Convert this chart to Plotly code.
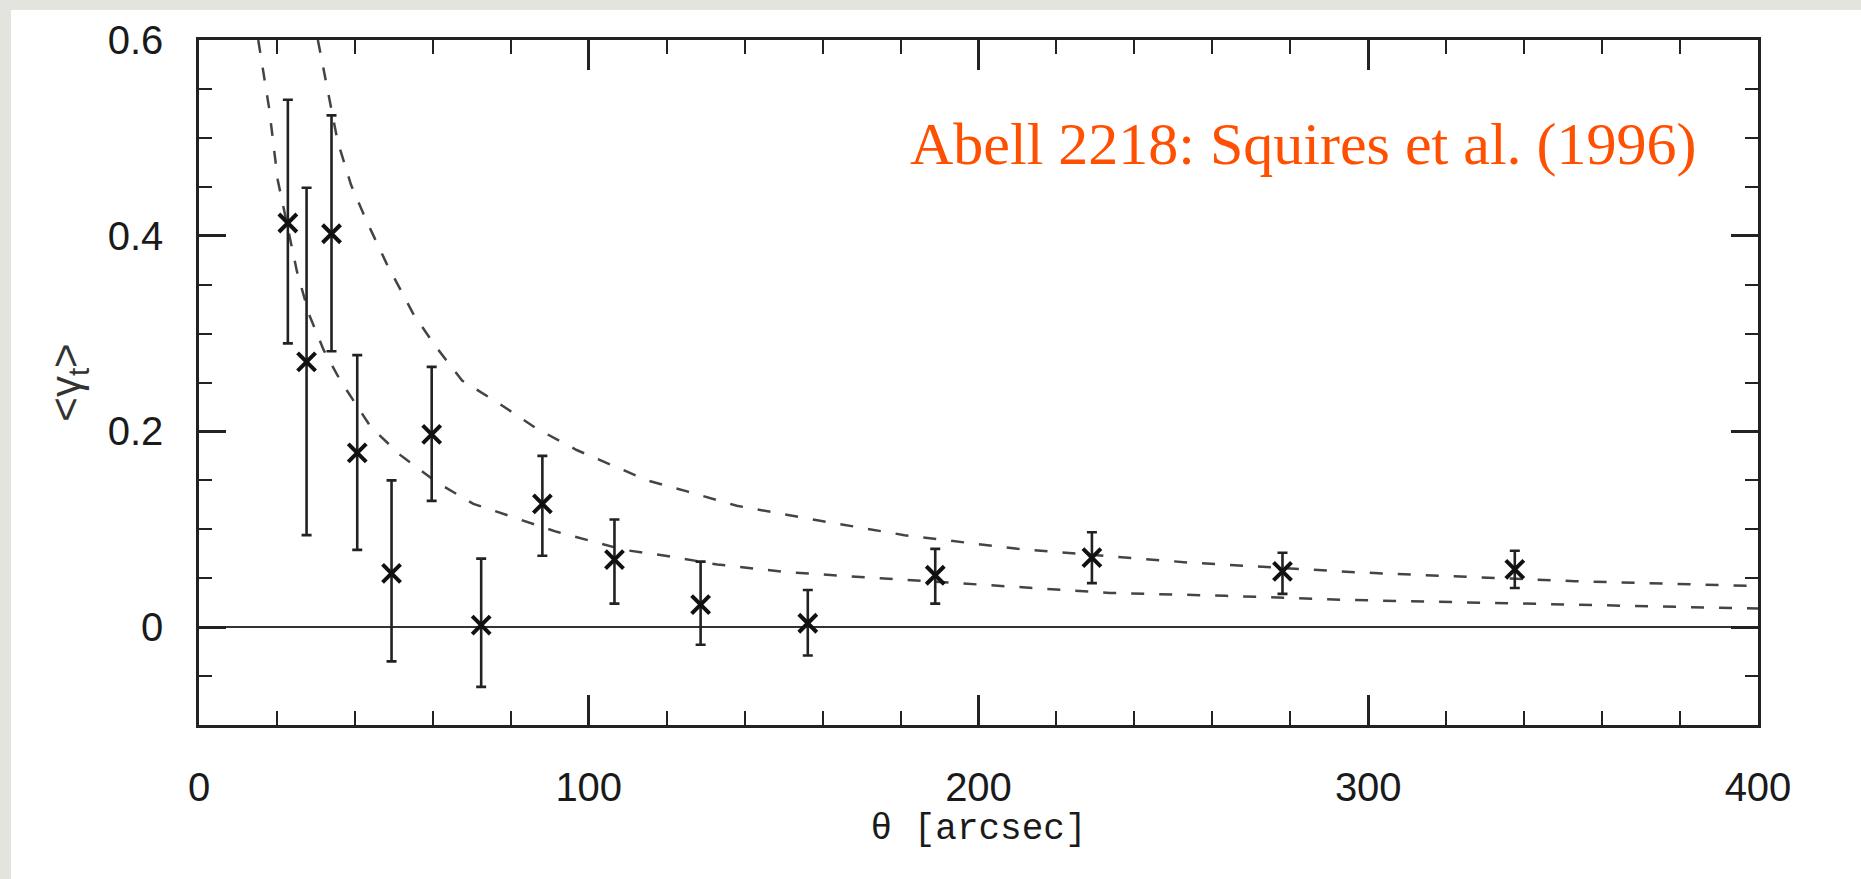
import plotly.graph_objects as go

# ---- data ----
theta = [22.8, 27.6, 34.0, 40.6, 49.4, 59.7, 72.4, 88.1, 106.6, 128.7, 156.2, 188.9, 229.1, 278.0, 337.6]
gamma_t = [0.413, 0.271, 0.402, 0.178, 0.055, 0.197, 0.002, 0.126, 0.069, 0.023, 0.004, 0.053, 0.071, 0.057, 0.059]
err_hi = [0.539, 0.449, 0.523, 0.278, 0.150, 0.266, 0.070, 0.175, 0.110, 0.067, 0.038, 0.080, 0.097, 0.076, 0.078]
err_lo = [0.290, 0.094, 0.282, 0.079, -0.035, 0.129, -0.061, 0.073, 0.024, -0.018, -0.029, 0.024, 0.045, 0.034, 0.040]

# upper dashed model curve
model1_x = [30.5, 33.4, 35.6, 39.0, 43.0, 48.2, 55.0, 60.7, 67.5, 77.2, 86.6, 96.9, 115.0, 125.0, 138.0,
            159.0, 181.0, 210.0, 254.0, 297.0, 353.0, 400.0]
model1_y = [0.600, 0.542, 0.496, 0.452, 0.415, 0.371, 0.320, 0.287, 0.252, 0.228, 0.203, 0.181, 0.150, 0.139,
            0.124, 0.109, 0.094, 0.080, 0.066, 0.056, 0.047, 0.042]

# lower dashed model curve
model2_x = [15.2, 18.0, 20.2, 25.1, 28.2, 32.0, 36.2, 44.0, 51.6, 61.0, 70.4, 80.6, 91.8, 109.0, 120.5,
            133.0, 151.5, 174.7, 206.0, 233.7, 263.4, 293.0, 352.5, 400.0]
model2_y = [0.600, 0.530, 0.457, 0.364, 0.320, 0.283, 0.2525, 0.205, 0.176, 0.148, 0.126, 0.112, 0.0974, 0.079,
            0.0725, 0.064, 0.056, 0.050, 0.042, 0.035, 0.032, 0.028, 0.023, 0.019]

x_ticks = [0, 100, 200, 300, 400]
y_ticks = [0, 0.2, 0.4, 0.6]
annotation_text = "Abell 2218: Squires et al. (1996)"

# ---- figure ----
fig = go.Figure()

dash_style = "13px,15px"
fig.add_trace(go.Scatter(x=model1_x, y=model1_y, mode="lines",
                         line=dict(color="#444444", width=2.5, dash=dash_style),
                         hoverinfo="skip", showlegend=False))
fig.add_trace(go.Scatter(x=model2_x, y=model2_y, mode="lines",
                         line=dict(color="#444444", width=2.5, dash=dash_style),
                         hoverinfo="skip", showlegend=False))

plus = [h - v for h, v in zip(err_hi, gamma_t)]
minus = [v - l for v, l in zip(gamma_t, err_lo)]
fig.add_trace(go.Scatter(
    x=theta, y=gamma_t, mode="markers",
    marker=dict(symbol="x-thin", size=18, line=dict(width=4, color="#111111"), color="#111111"),
    error_y=dict(type="data", symmetric=False, array=plus, arrayminus=minus,
                 color="#222222", thickness=2.6, width=5),
    showlegend=False))

W, H = 1861, 879
L, R, T, B = 199, 103, 40, 154
pw = W - L - R
ph = H - T - B

# white page over grey border (grey strips at top and left)
fig.add_shape(type="rect", xref="paper", yref="paper",
              x0=(11 - L) / pw, x1=(W + 20 - L) / pw,
              y0=(H - B - (H + 20)) / ph, y1=(H - B - 10) / ph,
              fillcolor="white", line=dict(width=0), layer="below")

fig.add_annotation(x=182, y=0.494, xref="x", yref="y", xanchor="left", yanchor="middle",
                   text=annotation_text, showarrow=False,
                   font=dict(family="Liberation Serif, serif", size=60, color="#FF4F00"))

tickfont = dict(family="Liberation Sans, Arial, sans-serif", size=40, color="#1a1a1a")
fig.update_xaxes(range=[0, 400], tickvals=x_ticks, ticks="inside", ticklen=30, tickwidth=2.5,
                 tickcolor="#222222", showline=True, linecolor="#222222", linewidth=2.5,
                 mirror="allticks", showgrid=False, zeroline=False, tickfont=tickfont,
                 ticklabelstandoff=25,
                 minor=dict(dtick=20, tick0=0, ticks="inside", ticklen=14, tickwidth=2,
                            tickcolor="#222222", showgrid=False),
                 title=dict(text="θ [arcsec]", standoff=2,
                            font=dict(family="Liberation Mono, monospace", size=36, color="#1a1a1a")))
fig.update_yaxes(range=[-0.1, 0.6], tickvals=y_ticks, ticks="inside", ticklen=27, tickwidth=2.5,
                 tickcolor="#222222", showline=True, linecolor="#222222", linewidth=2.5,
                 mirror="allticks", showgrid=False, zeroline=True, zerolinecolor="#333333",
                 zerolinewidth=2.2, tickfont=tickfont, ticklabelstandoff=25,
                 minor=dict(dtick=0.05, tick0=0, ticks="inside", ticklen=13, tickwidth=2,
                            tickcolor="#222222", showgrid=False),
                 title=dict(text="&lt;γ<sub>t</sub>&gt;", standoff=14,
                            font=dict(family="Liberation Sans, Arial, sans-serif", size=42, color="#333333")))

fig.update_layout(width=W, height=H, autosize=False,
                  margin=dict(l=L, r=R, t=T, b=B, pad=0),
                  paper_bgcolor="rgb(228,228,223)", plot_bgcolor="white",
                  showlegend=False)

fig.write_html("out.html")
